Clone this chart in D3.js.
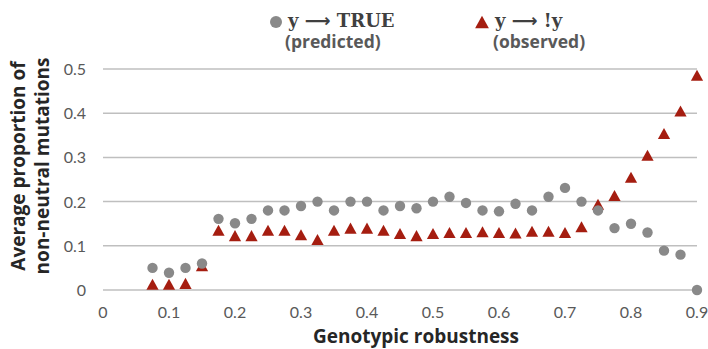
<!DOCTYPE html>
<meta charset="utf-8" />
<style>
  body { margin: 0; background: #fff; }
</style>
<svg width="708" height="349" font-family="Lato, 'Open Sans', sans-serif"></svg>
<script src="https://d3js.org/d3.v7.min.js"></script>
<script>
  // robustness values along the x axis
  var robustness = [0.075, 0.1, 0.125, 0.15, 0.175, 0.2, 0.225, 0.25, 0.275, 0.3,
    0.325, 0.35, 0.375, 0.4, 0.425, 0.45, 0.475, 0.5, 0.525, 0.55,
    0.575, 0.6, 0.625, 0.65, 0.675, 0.7, 0.725, 0.75, 0.775, 0.8,
    0.825, 0.85, 0.875, 0.9];
  // y -> TRUE (predicted), grey circles
  var predicted = [0.05, 0.039, 0.05, 0.06, 0.161, 0.151, 0.161, 0.18, 0.18, 0.19,
    0.2, 0.18, 0.2, 0.2, 0.18, 0.19, 0.185, 0.2, 0.211, 0.197,
    0.18, 0.178, 0.195, 0.18, 0.211, 0.231, 0.2, 0.18, 0.14, 0.15,
    0.13, 0.089, 0.08, 0.0];
  // y -> !y (observed), red triangles
  var observed = [0.013, 0.013, 0.015, 0.055, 0.135, 0.123, 0.123, 0.135, 0.135, 0.125,
    0.114, 0.135, 0.14, 0.14, 0.135, 0.128, 0.123, 0.128, 0.13, 0.13,
    0.132, 0.13, 0.129, 0.133, 0.133, 0.13, 0.143, 0.194, 0.214, 0.255,
    0.305, 0.354, 0.405, 0.486];
  var xTicks = [0, 0.1, 0.2, 0.3, 0.4, 0.5, 0.6, 0.7, 0.8, 0.9];
  var yTicks = [0, 0.1, 0.2, 0.3, 0.4, 0.5];

  var svg = d3.select("svg");
  var x = d3.scaleLinear().domain([0, 0.9]).range([103, 697]);
  var y = d3.scaleLinear().domain([0, 0.5]).range([290, 69]);
  var fmt = function(d) { return d === 0 ? "0" : d3.format(".1f")(d); };

  // triangle centred on its bounding box (like the office chart markers)
  var boxTriangle = {
    draw: function(ctx, size) {
      var w = Math.sqrt(size), h = w * 0.9;
      ctx.moveTo(0, -h / 2);
      ctx.lineTo(w / 2, h / 2);
      ctx.lineTo(-w / 2, h / 2);
      ctx.closePath();
    }
  };

  // gridlines
  svg.append("g")
    .selectAll("line")
    .data(yTicks)
    .enter()
    .append("line")
    .attr("x1", x(0))
    .attr("x2", x(0.9))
    .attr("y1", d => y(d))
    .attr("y2", d => y(d))
    .attr("stroke", "#bfbfbf")
    .attr("stroke-width", 1.5);

  // y tick labels
  svg.append("g")
    .selectAll("text")
    .data(yTicks)
    .enter()
    .append("text")
    .attr("x", 86)
    .attr("y", d => y(d) + 6)
    .attr("text-anchor", "end")
    .attr("font-size", 16)
    .attr("fill", "#595959")
    .text(fmt);

  // x tick labels
  svg.append("g")
    .selectAll("text")
    .data(xTicks)
    .enter()
    .append("text")
    .attr("x", d => x(d))
    .attr("y", 318)
    .attr("text-anchor", "middle")
    .attr("font-size", 16)
    .attr("fill", "#595959")
    .text(fmt);

  // axis titles
  svg.append("text")
    .attr("x", 416)
    .attr("y", 343)
    .attr("text-anchor", "middle")
    .attr("font-family", "Open Sans")
    .attr("font-size", 19)
    .attr("font-weight", "bold")
    .attr("fill", "#262626")
    .text("Genotypic robustness");

  var yt = svg.append("text")
    .attr("transform", "translate(0,166) rotate(-90)")
    .attr("text-anchor", "middle")
    .attr("font-family", "Open Sans")
    .attr("font-size", 19)
    .attr("font-weight", "bold")
    .attr("fill", "#262626");
  yt.append("tspan").attr("x", 0).attr("y", 25).text("Average proportion of");
  yt.append("tspan").attr("x", 0).attr("y", 49).text("non-neutral mutations");

  var tri = d3.symbol().type(boxTriangle).size(150);

  // observed triangles
  svg.append("g")
    .selectAll("path")
    .data(robustness)
    .enter()
    .append("path")
    .attr("d", tri)
    .attr("transform", (d, i) => "translate(" + x(d) + "," + y(observed[i]) + ")")
    .attr("fill", "#a51d10");

  // predicted circles
  svg.append("g")
    .selectAll("circle")
    .data(robustness)
    .enter()
    .append("circle")
    .attr("cx", d => x(d))
    .attr("cy", (d, i) => y(predicted[i]))
    .attr("r", 5.2)
    .attr("fill", "#898989");

  // legend
  var lg = svg.append("g");
  lg.append("circle").attr("cx", 276).attr("cy", 22).attr("r", 6).attr("fill", "#898989");
  var l1 = lg.append("text").attr("x", 288).attr("y", 27).attr("font-size", 18)
    .attr("font-weight", "bold").attr("fill", "#404040");
  l1.append("tspan").attr("font-family", "DejaVu Serif").text("y ");
  l1.append("tspan").attr("font-family", "DejaVu Sans").text("\u27F6");
  l1.append("tspan").attr("font-family", "DejaVu Serif").text(" TRUE");
  lg.append("text").attr("x", 285).attr("y", 48).attr("font-family", "Open Sans").attr("font-size", 17.5)
    .attr("font-weight", "bold").attr("fill", "#595959").text("(predicted)");

  lg.append("path").attr("d", d3.symbol().type(boxTriangle).size(190))
    .attr("transform", "translate(482,22)").attr("fill", "#a51d10");
  var l2 = lg.append("text").attr("x", 495).attr("y", 27).attr("font-size", 18)
    .attr("font-weight", "bold").attr("fill", "#404040");
  l2.append("tspan").attr("font-family", "DejaVu Serif").text("y ");
  l2.append("tspan").attr("font-family", "DejaVu Sans").text("\u27F6");
  l2.append("tspan").attr("font-family", "DejaVu Serif").text(" !y");
  lg.append("text").attr("x", 493).attr("y", 48).attr("font-family", "Open Sans").attr("font-size", 17.5)
    .attr("font-weight", "bold").attr("fill", "#595959").text("(observed)");
</script>
